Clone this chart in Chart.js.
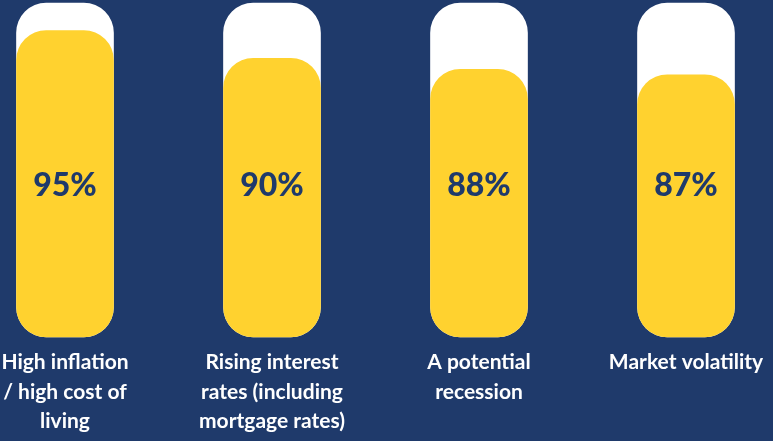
<!DOCTYPE html>
<html>
<head>
<meta charset="utf-8">
<script src="https://cdn.jsdelivr.net/npm/chart.js@4/dist/chart.umd.min.js"></script>
<style>
  html, body { margin: 0; padding: 0; background: #1f3a6b; }
  #wrap { width: 773px; height: 441px; position: relative; }
</style>
</head>
<body>
<div id="wrap"><canvas id="grafico"></canvas></div>
<script>
// dados
var categorias = [
    ["High inflation", "/ high cost of", "living"],
    ["Rising interest", "rates (including", "mortgage rates)"],
    ["A potential", "recession"],
    ["Market volatility"]
];
var valores = [95, 90, 88, 87];
var trilho = [100, 100, 100, 100];

var azul = '#1f3a6b';
var amarelo = '#ffd22f';
var minimo = 39.6;

// escreve a porcentagem dentro de cada barra
var rotulosPct = {
    id: 'rotulosPct',
    afterDatasetsDraw: function (chart) {
        var ctx = chart.ctx;
        var meta = chart.getDatasetMeta(0);
        var area = chart.chartArea;
        ctx.save();
        ctx.fillStyle = azul;
        ctx.font = '900 32px Lato, "Open Sans", sans-serif';
        ctx.textAlign = 'center';
        ctx.textBaseline = 'middle';
        meta.data.forEach(function (barra, i) {
            ctx.fillText(valores[i] + '%', barra.x, area.top + (area.bottom - area.top) * 0.548);
        });
        ctx.restore();
    }
};

var ctx = document.getElementById('grafico').getContext('2d');
var grafico = new Chart(ctx, {
    type: 'bar',
    data: {
        labels: categorias,
        datasets: [
            {
                label: 'Valor',
                data: valores,
                backgroundColor: amarelo,
                borderRadius: 30,
                borderSkipped: false,
                barThickness: 97,
                grouped: false,
                base: minimo,
                clip: false
            },
            {
                label: 'Trilho',
                data: trilho,
                backgroundColor: '#ffffff',
                borderRadius: 30,
                borderSkipped: false,
                barThickness: 97,
                grouped: false,
                base: minimo,
                clip: false
            }
        ]
    },
    options: {
        responsive: true,
        maintainAspectRatio: false,
        animation: false,
        layout: { padding: { left: 65, right: 87, top: 3, bottom: 0 } },
        plugins: {
            legend: { display: false },
            tooltip: { enabled: false }
        },
        scales: {
            x: {
                offset: false,
                grid: { display: false },
                border: { display: false },
                afterFit: function (scale) {
                    scale.height = 104;
                    scale.paddingLeft = 0;
                    scale.paddingRight = 0;
                },
                ticks: {
                    color: '#ffffff',
                    padding: 3,
                    maxRotation: 0,
                    autoSkip: false,
                    font: { family: 'Lato, "Open Sans", sans-serif', size: 21, weight: 'bold', lineHeight: 1.4 }
                }
            },
            y: {
                display: false,
                min: minimo,
                max: 100
            }
        }
    },
    plugins: [rotulosPct]
});
</script>
</body>
</html>
